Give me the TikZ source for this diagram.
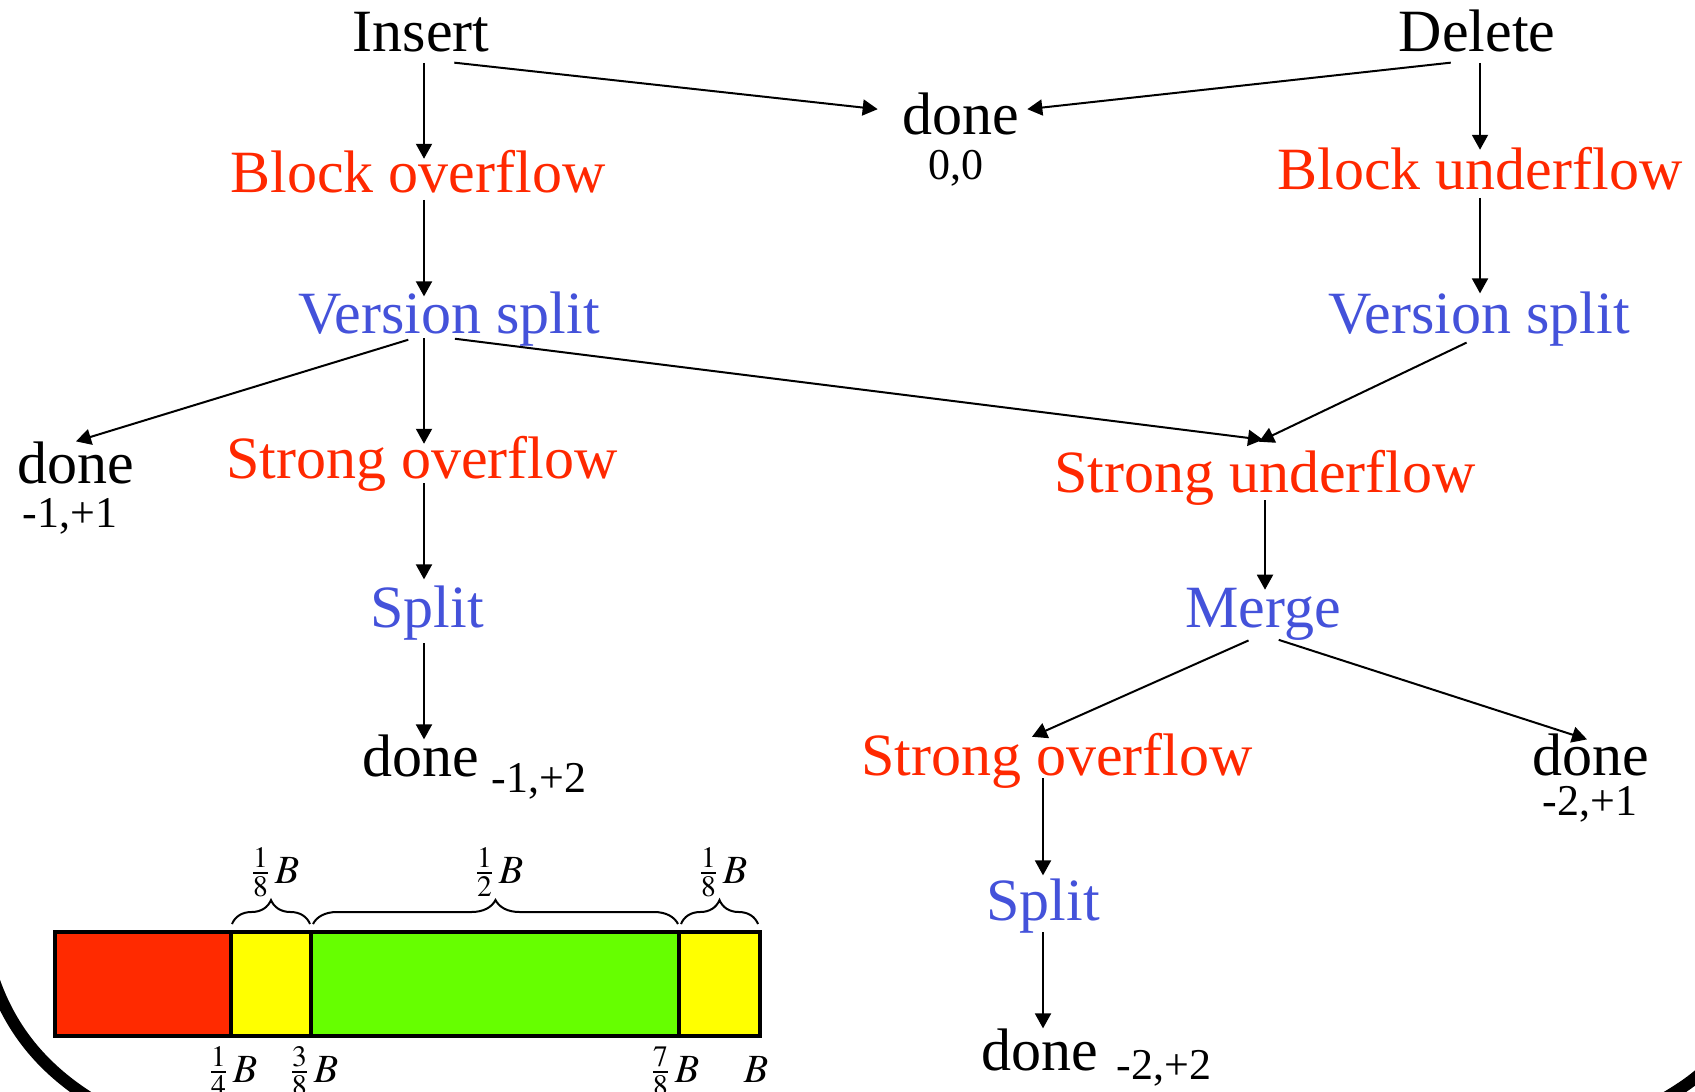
\documentclass[tikz,border=0pt]{standalone}
\usepackage{mathptmx}
\usepackage{fontspec}
\setmainfont{Liberation Serif}
\usetikzlibrary{arrows.meta, decorations.pathreplacing}

\definecolor{txtred}{RGB}{255,40,0}
\definecolor{txtblue}{RGB}{68,82,218}
\definecolor{barred}{RGB}{255,42,0}
\definecolor{baryellow}{RGB}{255,255,0}
\definecolor{bargreen}{RGB}{102,255,0}

\begin{document}
\begin{tikzpicture}[
        x=0.5pt, y=-0.5pt,
        line/.style={draw, line width=1pt,
            -{Triangle[length=7.5pt,width=8pt]}, shorten <=3pt},
        lbl/.style={inner sep=0pt, outer sep=0pt, anchor=base,
            text depth=0pt, font=\fontsize{30}{36}\selectfont},
        state/.style={lbl, text=black},
        event/.style={lbl, text=txtred},
        action/.style={lbl, text=txtblue},
        cost/.style={inner sep=0pt, anchor=base,
            font=\fontsize{22}{26}\selectfont},
        seg/.style={draw, line width=1.8pt},
        brc/.style={draw, decorate, decoration={brace, amplitude=12pt},
            line width=1pt},
        frac/.style={inner sep=0pt, anchor=base,
            font=\fontsize{20}{24}\selectfont},
    ]
    \useasboundingbox (0,0) rectangle (1695,1091);

    % columns for the vertical arrows
    \coordinate (lx) at (424,0);
    \coordinate (rx) at (1480,0);
    \coordinate (sx) at (1043,0);

    % 1. Operations
    \node[state] (insert) at (421,52) {Insert};
    \node[state] (delete) at (1477,52) {Delete};
    \node[state] (done0) at (961,135) {done};
    \node[cost] (val0) at (956,180) {0,0};

    % 2. Block level
    \node[event] (bover) at (418,192) {Block overflow};
    \node[event] (bunder) at (1480,190) {Block underflow};
    \node[action] (vsplitL) at (449,333) {Version split};
    \node[action] (vsplitR) at (1479,333) {Version split};

    % 3. Insert branch
    \node[state] (doneA) at (76,483) {done};
    \node[cost] (valA) at (70,527) {-1,+1};
    \node[event] (soverL) at (422,478) {Strong overflow};
    \node[action] (splitL) at (427,627) {Split};
    \node[state] (doneB) at (421,776) {done};
    \node[cost] (valB) at (539,792) {-1,+2};

    % 4. Delete branch
    \node[event] (sunder) at (1265,492) {Strong underflow};
    \node[action] (merge) at (1263,627) {Merge};
    \node[event] (soverR) at (1057,775) {Strong overflow};
    \node[state] (doneC) at (1591,775) {done};
    \node[cost] (valC) at (1590,815) {-2,+1};
    \node[action] (splitR) at (1043,920) {Split};
    \node[state] (doneD) at (1040,1070) {done};
    \node[cost] (valD) at (1164,1079) {-2,+2};

    % --- Arrows ---
    \path[line, shorten <=5.5pt, shorten >=-4.5pt]
        (lx |- insert.south) -- (lx |- bover.north);
    \path[line] ([xshift=-20.5pt,yshift=-5pt]insert.south east)
        -- ([xshift=-12.5pt,yshift=2.5pt]done0.west);
    \path[line] ([xshift=29pt,yshift=-5pt]delete.south west)
        -- ([xshift=4pt,yshift=2.5pt]done0.east);
    \path[line, shorten <=5.5pt, shorten >=-1pt]
        (rx |- delete.south) -- (rx |- bunder.north);
    \path[line, shorten <=4pt, shorten >=-2.5pt]
        (lx |- bover.south) -- (lx |- vsplitL.north);
    \path[line, shorten <=4pt, shorten >=-1pt]
        (rx |- bunder.south) -- (rx |- vsplitR.north);
    \path[line] ([xshift=-17.5pt,yshift=-2.5pt]vsplitL.south) -- (doneA.north);
    \path[line, shorten <=2.5pt, shorten >=-4pt]
        (lx |- vsplitL.south) -- (lx |- soverL.north);
    \path[line] ([yshift=-2.5pt]vsplitL.south)
        -- ([xshift=-1pt,yshift=5pt]sunder.north);
    \path[line] ([xshift=-3.5pt,yshift=-3.5pt]vsplitR.south)
        -- ([xshift=-3pt,yshift=4pt]sunder.north);
    \path[line, shorten <=2.5pt, shorten >=3pt]
        (lx |- soverL.south) -- (lx |- splitL.north);
    \path[line, shorten <=8pt, shorten >=-2.5pt]
        (lx |- splitL.south) -- (lx |- doneB.north);
    \path[line, shorten <=4pt, shorten >=-1pt]
        (sunder.south) -- (sunder.south |- merge.north);
    \path[line] ([xshift=-4.5pt,yshift=-5.5pt]merge.south)
        -- ([xshift=-12.5pt,yshift=-2pt]soverR.north);
    \path[line] ([xshift=5pt,yshift=-5.5pt]merge.south)
        -- ([xshift=-2pt,yshift=-3pt]doneC.north);
    \path[line, shorten <=1.5pt, shorten >=1.5pt]
        (sx |- soverR.south) -- (sx |- splitR.north);
    \path[line, shorten <=6pt]
        (sx |- splitR.south) -- (sx |- doneD.north);

    % --- Block fill bar ---
    \path[seg, fill=barred] (55,932) rectangle (231,1036);
    \path[seg, fill=baryellow] (231,932) rectangle (311,1036);
    \path[seg, fill=bargreen] (311,932) rectangle (679,1036);
    \path[seg, fill=baryellow] (679,932) rectangle (760,1036);

    \path[brc] (232,924) -- (310,924);
    \path[brc] (313,924) -- (678,924);
    \path[brc] (681,924) -- (758,924);
    \node[frac] (b1) at (275,883) {$\frac{1}{8}\,B$};
    \node[frac] (b2) at (499,883) {$\frac{1}{2}\,B$};
    \node[frac] (b3) at (723,883) {$\frac{1}{8}\,B$};

    \node[frac] (t1) at (233,1082) {$\frac{1}{4}\,B$};
    \node[frac] (t2) at (314,1082) {$\frac{3}{8}\,B$};
    \node[frac] (t3) at (675,1082) {$\frac{7}{8}\,B$};
    \node[frac] (t4) at (756,1082) {$B$};

    % frame edges
    \draw[line width=6pt] (-8,975) .. controls (10,1030) and (45,1075) .. (110,1110);
    \draw[line width=6pt] (1712,1062) .. controls (1698,1078) and (1680,1090) .. (1648,1108);
\end{tikzpicture}
\end{document}
